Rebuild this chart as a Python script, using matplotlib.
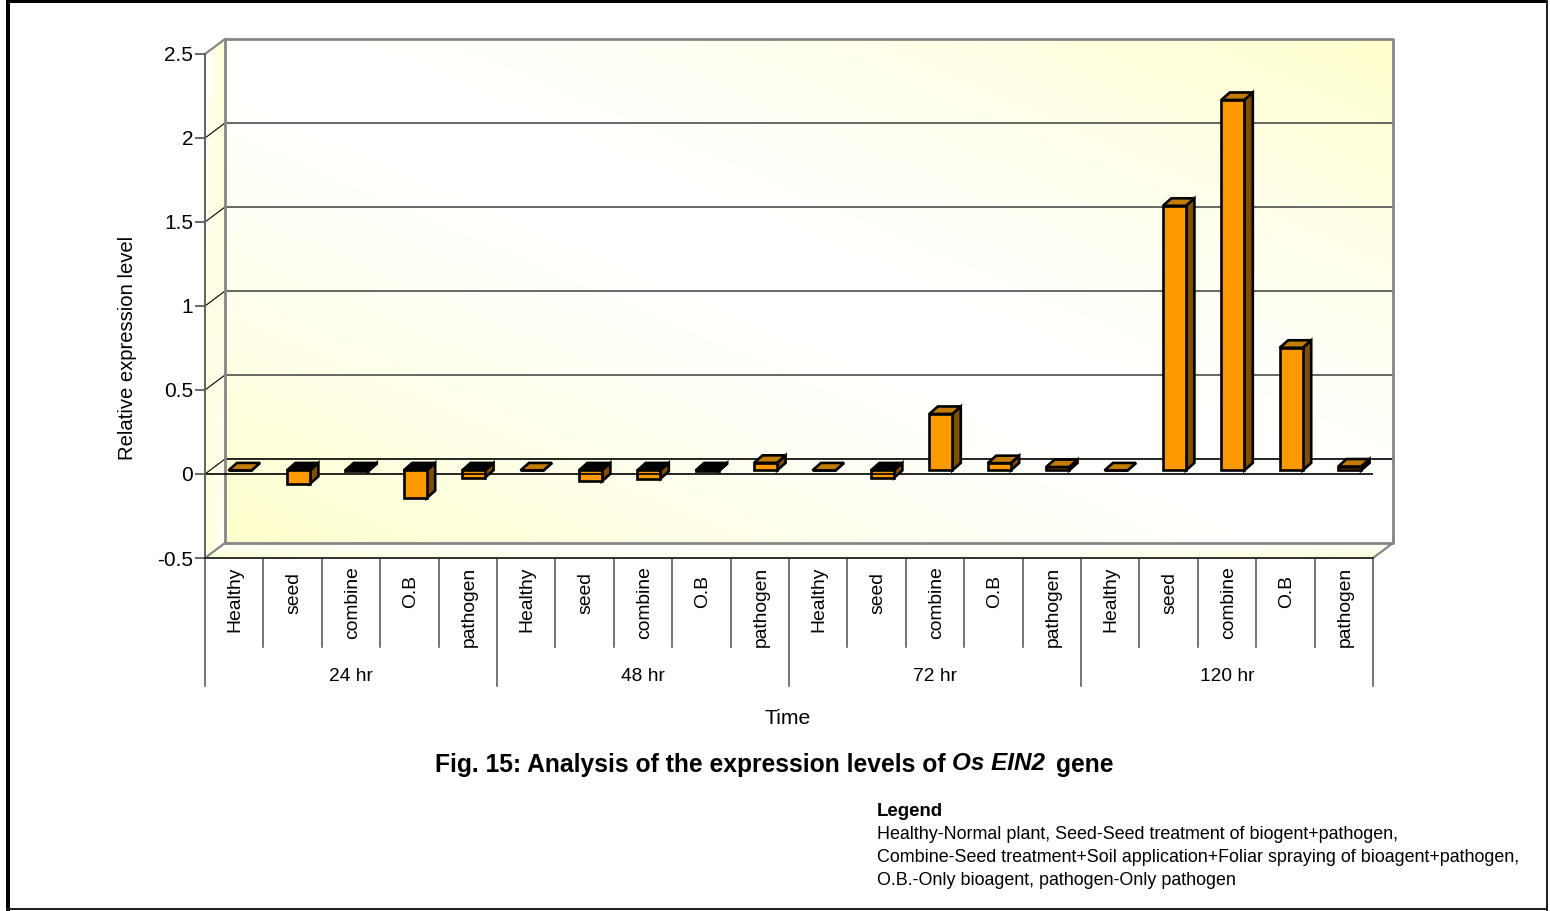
import numpy as np
import matplotlib
matplotlib.use('Agg')
import matplotlib.pyplot as plt
from matplotlib.patches import Polygon, Rectangle
from matplotlib.transforms import ScaledTranslation

plt.rcParams['font.family'] = ['Liberation Sans', 'DejaVu Sans']

# Expression values, one row per time point
treatments = ['Healthy', 'seed', 'combine', 'O.B', 'pathogen']
time_points = ['24 hr', '48 hr', '72 hr', '120 hr']
values_24 = [0.0, -0.08, -0.005, -0.165, -0.043]
values_48 = [0.0, -0.065, -0.05, -0.005, 0.045]
values_72 = [0.0, -0.045, 0.336, 0.043, 0.02]
values_120 = [0.0, 1.575, 2.205, 0.73, 0.023]
y_ticks = [-0.5, 0, 0.5, 1, 1.5, 2, 2.5]
y_tick_labels = ['-0.5', '0', '0.5', '1', '1.5', '2', '2.5']

values = values_24 + values_48 + values_72 + values_120
n_cat = len(values)

W, H = 1550, 912
fig = plt.figure(figsize=(W / 100, H / 100), dpi=100, facecolor='white')

# Front plane of the 3D box, everything else is offset from it
left, right, bottom, top = 205, 1373, 559, 55
ax = fig.add_axes([left / W, 1 - bottom / H, (right - left) / W, (bottom - top) / H])
ax.set_xlim(0, n_cat)
ax.set_ylim(-0.5, 2.5)
ax.patch.set_visible(False)
for s in ['top', 'right']:
    ax.spines[s].set_visible(False)
ax.spines['left'].set_color('#606060')
ax.spines['left'].set_linewidth(1.4)
ax.spines['bottom'].set_color('#303030')
ax.spines['bottom'].set_linewidth(1.4)

x_unit = (right - left) / n_cat
y_unit = (bottom - top) / 3.0
wall_dx = 20 / x_unit
wall_dy = 15 / y_unit
bar_dx = 8.5 / x_unit
bar_dy = 7.5 / y_unit
bar_lift = 3.6 / y_unit
bar_w = 23 / x_unit
bar_shift = 5.8 / x_unit


def below_axis(py):
    # pixel row in the figure -> axes fraction for the x-blended transform
    return (bottom - py) / (bottom - top)


def gradient_patch(rgb, extent, poly, z):
    im = ax.imshow(rgb, extent=extent, origin='upper', aspect='auto', zorder=z,
                   interpolation='bilinear')
    # the box sticks out of the axes rectangle, so only clip to the polygon
    im.set_clip_box(fig.bbox)
    im.set_clip_path(Polygon(poly, closed=True, transform=ax.transData))


def yellow_ramp(t):
    t = np.clip(t, 0, 1)
    rgb = np.ones(t.shape + (3,))
    rgb[..., 2] = 1 - 0.2 * t
    return rgb


# back wall, white along one diagonal and yellow in the other two corners
u, v = np.meshgrid(np.linspace(0, 1, 300), np.linspace(0, 1, 200))
wall = yellow_ramp(np.abs(u - v) ** 1.5)
gradient_patch(wall, (wall_dx, n_cat + wall_dx, -0.5 + wall_dy, 2.5 + wall_dy),
               [(wall_dx, -0.5 + wall_dy), (n_cat + wall_dx, -0.5 + wall_dy),
                (n_cat + wall_dx, 2.5 + wall_dy), (wall_dx, 2.5 + wall_dy)], 0)

# left side wall
u, v = np.meshgrid(np.linspace(0, 1, 40), np.linspace(0, 1, 200))
side = yellow_ramp(0.75 * ((1 - u) * v + u * (1 - v)) + 0.1)
gradient_patch(side, (0, wall_dx, -0.5, 2.5 + wall_dy),
               [(0, -0.5), (wall_dx, -0.5 + wall_dy), (wall_dx, 2.5 + wall_dy), (0, 2.5)], 0)

# floor
u, v = np.meshgrid(np.linspace(0, 1, 300), np.linspace(0, 1, 30))
floor = yellow_ramp(v * (0.25 + 0.6 * np.abs(2 * u - 1) ** 2))
gradient_patch(floor, (0, n_cat + wall_dx, -0.5, -0.5 + wall_dy),
               [(0, -0.5), (n_cat, -0.5), (n_cat + wall_dx, -0.5 + wall_dy), (wall_dx, -0.5 + wall_dy)], 0)

ax.set_xlim(0, n_cat)
ax.set_ylim(-0.5, 2.5)

# gridlines on the back wall and the slanted bit on the side wall
for tick in y_ticks[1:-1]:
    color = 'black' if tick == 0 else '#4d4d4d'
    ax.plot([wall_dx, n_cat + wall_dx], [tick + wall_dy] * 2, color=color, lw=1.2, zorder=1, clip_on=False)
    ax.plot([0, wall_dx], [tick, tick + wall_dy], color='black', lw=0.8, zorder=1, clip_on=False)

# box edges
edge = '#868686'
ax.plot([wall_dx, wall_dx, n_cat + wall_dx, n_cat + wall_dx, wall_dx],
        [-0.5 + wall_dy, 2.5 + wall_dy, 2.5 + wall_dy, -0.5 + wall_dy, -0.5 + wall_dy],
        color=edge, lw=2.0, zorder=1.5, clip_on=False)
ax.plot([0, wall_dx], [2.5, 2.5 + wall_dy], color=edge, lw=1.6, zorder=1.5, clip_on=False)
ax.plot([0, wall_dx], [-0.5, -0.5 + wall_dy], color=edge, lw=1.6, zorder=1.5, clip_on=False)
ax.plot([n_cat, n_cat + wall_dx], [-0.5, -0.5 + wall_dy], color=edge, lw=1.6, zorder=1.5, clip_on=False)

# zero line on the front plane
ax.axhline(0, color='black', lw=1.2, zorder=2)

# bars: front face through ax.bar, side and top as polygons behind it
positions = np.arange(n_cat) + 0.5 + bar_shift
ax.bar(positions, values, width=bar_w, bottom=bar_lift, color='#FF9900',
       edgecolor='black', linewidth=1.9, zorder=4, clip_on=False)
for x, val in zip(positions, values):
    x0, x1 = x - bar_w / 2, x + bar_w / 2
    y_low, y_high = bar_lift + min(val, 0), bar_lift + max(val, 0)
    side_face = [(x1, y_low), (x1 + bar_dx, y_low + bar_dy), (x1 + bar_dx, y_high + bar_dy), (x1, y_high)]
    top_face = [(x0, y_high), (x1, y_high), (x1 + bar_dx, y_high + bar_dy), (x0 + bar_dx, y_high + bar_dy)]
    top_color = 'black' if val < 0 else '#C27C00'
    ax.add_patch(Polygon(side_face, closed=True, fc='#7F4F00', ec='black', lw=1.9, zorder=3, joinstyle='miter'))
    ax.add_patch(Polygon(top_face, closed=True, fc=top_color, ec='black', lw=1.9, zorder=3, joinstyle='miter'))
    # the zero line shows through the shallow negative bars
    if -0.07 < val < -0.01:
        ax.plot([x0, x1], [0, 0], color='black', lw=1.2, zorder=5)

# y axis, tick text sits one pixel above its tick
ax.set_yticks(y_ticks)
ax.set_yticklabels(y_tick_labels, fontsize=15, color='black')
ax.tick_params(axis='y', length=7, width=1.1, color='#404040', pad=1.5)
nudge = ScaledTranslation(0, 1 / 100, fig.dpi_scale_trans)
for lab in ax.get_yticklabels():
    lab.set_transform(lab.get_transform() + nudge)
ax.set_ylabel('Relative expression level', fontsize=14.6, labelpad=0)
ax.yaxis.set_label_coords((137 - left) / (right - left), below_axis(348))

# two level category axis under the box
ax.set_xticks([])
blend = ax.get_xaxis_transform()
for i in range(n_cat + 1):
    row = 686.5 if i % 5 == 0 else 648
    ax.plot([i, i], [0, below_axis(row)], transform=blend, color='#505050', lw=1.1, clip_on=False, zorder=2)

# the shorter names start a little lower down
label_start = {'seed': 572, 'O.B': 575}
for i in range(n_cat):
    name = treatments[i % 5]
    ax.text(i + 0.52, below_axis(label_start.get(name, 566.5)), name, transform=blend, rotation=90,
            ha='center', va='top', fontsize=13.9)
for j, label in enumerate(time_points):
    ax.text(5 * j + 2.5, below_axis(676.5), label, transform=blend,
            ha='center', va='center', fontsize=13.8)
ax.text(n_cat / 2 - 0.02, below_axis(718), 'Time', transform=blend,
        ha='center', va='center', fontsize=15.2)

# caption
fig.text(435 / W, 1 - 765 / H, 'Fig. 15: Analysis of the expression levels of', fontsize=17.7,
         fontweight='bold', ha='left', va='center')
fig.text(952 / W, 1 - 764 / H, 'Os EIN2', fontsize=17.5, fontweight='bold', style='italic', ha='left', va='center')
fig.text(1056 / W, 1 - 765 / H, 'gene', fontsize=17.7, fontweight='bold', ha='left', va='center')

# legend notes
fig.text(877 / W, 1 - 812 / H, 'Legend', fontsize=13.4, fontweight='bold', ha='left', va='center')
notes = ['Healthy-Normal plant, Seed-Seed treatment of biogent+pathogen,',
         'Combine-Seed treatment+Soil application+Foliar spraying of bioagent+pathogen,',
         'O.B.-Only bioagent, pathogen-Only pathogen']
for k, line in enumerate(notes):
    fig.text(877 / W, 1 - (834.5 + 23 * k) / H, line, fontsize=12.9, ha='left', va='center')

# outer frame
fig.add_artist(Rectangle((6 / W, 0), 4 / W, 1, transform=fig.transFigure, fc='black', ec='none'))
fig.add_artist(Rectangle((6 / W, 1 - 4 / H), (1548 - 6) / W, 4 / H, transform=fig.transFigure, fc='black', ec='none'))
fig.add_artist(Rectangle((1546 / W, 0), 2 / W, 1, transform=fig.transFigure, fc='#202020', ec='none'))
fig.add_artist(Rectangle((6 / W, 1 - 910.5 / H), (1548 - 6) / W, 2 / H, transform=fig.transFigure, fc='#202020', ec='none'))

fig.savefig('out.png', dpi=100)
